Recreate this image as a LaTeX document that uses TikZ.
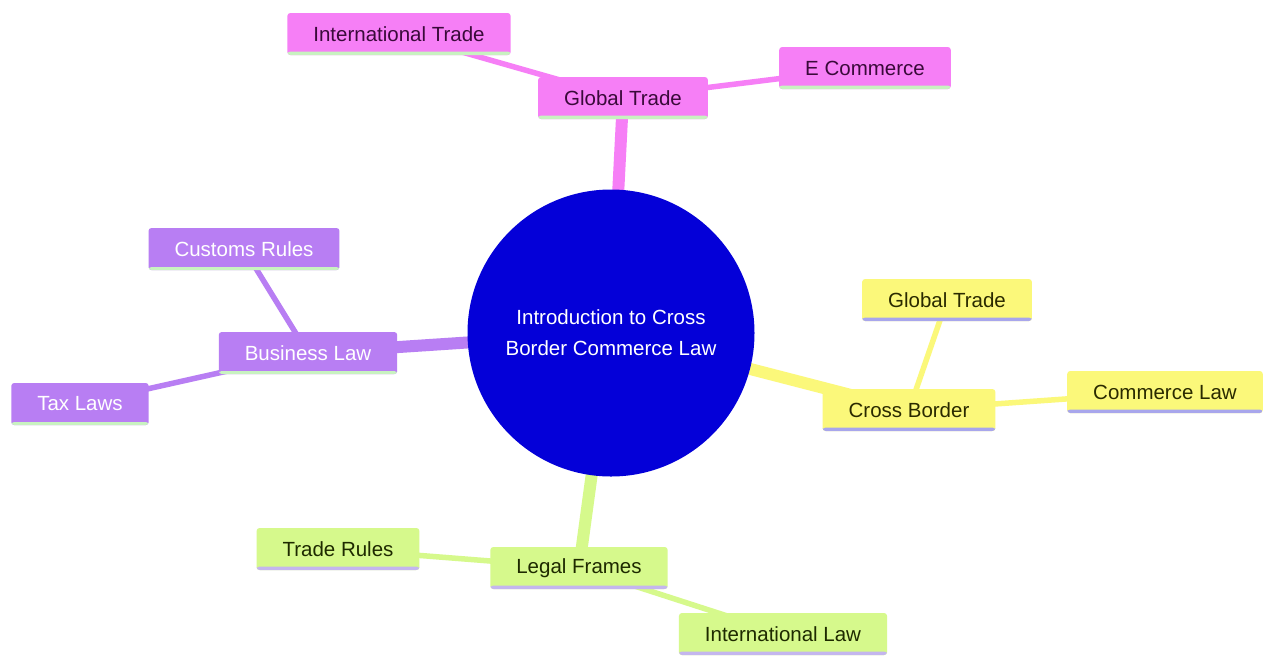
\documentclass[tikz,border=0pt]{standalone}
\usepackage{fontspec}
\setmainfont{Liberation Sans}
\usetikzlibrary{backgrounds}
\definecolor{pinkfill}{HTML}{F67FF6}
\definecolor{pinkline}{HTML}{F67FF6}
\definecolor{pinktext}{HTML}{3A0A3A}
\definecolor{purplefill}{HTML}{B87EF3}
\definecolor{yellowfill}{HTML}{FBF87A}
\definecolor{yellowtext}{HTML}{2A2A00}
\definecolor{greenfill}{HTML}{D6F98C}
\definecolor{greentext}{HTML}{1E2A00}
\definecolor{ulgreen}{HTML}{C8F2C0}
\definecolor{ullav}{HTML}{A8A6EC}
\definecolor{ulgreenlav}{HTML}{C4B6EE}
\definecolor{centerblue}{HTML}{0400D8}
\begin{document}
\begin{tikzpicture}[x=1pt,y=-1pt,
  basebox/.style={rectangle, rounded corners=3pt, minimum height=42pt, inner xsep=26pt,
    font=\fontsize{20.5}{24}\selectfont},
  pinkbox/.style={basebox, fill=pinkfill, text=pinktext,
    path picture={\fill[ulgreen] ([yshift=3.5pt]path picture bounding box.south west) rectangle (path picture bounding box.south east);}},
  purplebox/.style={basebox, fill=purplefill, text=white,
    path picture={\fill[ulgreen] ([yshift=3pt]path picture bounding box.south west) rectangle (path picture bounding box.south east);}},
  yellowbox/.style={basebox, fill=yellowfill, text=yellowtext,
    path picture={\fill[ullav] ([yshift=3.5pt]path picture bounding box.south west) rectangle (path picture bounding box.south east);}},
  greenbox/.style={basebox, fill=greenfill, text=greentext,
    path picture={\fill[ulgreenlav] ([yshift=3.5pt]path picture bounding box.south west) rectangle (path picture bounding box.south east);}},
  mainedge/.style={line width=12pt},
  subedge/.style={line width=5.5pt},
]
\useasboundingbox (0,0) rectangle (1264,657);

\node[circle, fill=centerblue, minimum size=287pt, inner sep=0pt, text=white, align=center,
  font=\fontsize{20.5}{31}\selectfont] (root) at (611,333) {Introduction to Cross\\Border Commerce Law};

\node[pinkbox] (gt) at (623,98) {Global Trade};
\node[pinkbox] (it) at (399,34) {International Trade};
\node[pinkbox] (ec) at (865,68) {E Commerce};

\node[purplebox] (bl) at (308,353) {Business Law};
\node[purplebox] (cr) at (244,249) {Customs Rules};
\node[purplebox] (tl) at (80,404) {Tax Laws};

\node[yellowbox] (cb) at (909,410) {Cross Border};
\node[yellowbox] (gt2) at (947,300) {Global Trade};
\node[yellowbox] (cl) at (1165,392) {Commerce Law};

\node[greenbox] (lf) at (579,568) {Legal Frames};
\node[greenbox] (tr) at (338,549) {Trade Rules};
\node[greenbox] (il) at (783,634) {International Law};

\begin{pgfonlayer}{background}
\fill[white] (0,0) rectangle (1264,657);
\draw[mainedge, pinkline] (root.center) -- (gt.center);
\draw[mainedge, purplefill] (root.center) -- (bl.center);
\draw[mainedge, yellowfill] (root.center) -- (cb.center);
\draw[mainedge, greenfill] (root.center) -- (lf.center);
\draw[subedge, pinkline] (gt.center) -- (it.center);
\draw[subedge, pinkline] (gt.center) -- (ec.center);
\draw[subedge, purplefill] (bl.center) -- (cr.center);
\draw[subedge, purplefill] (bl.center) -- (tl.center);
\draw[subedge, yellowfill] (cb.center) -- (gt2.center);
\draw[subedge, yellowfill] (cb.center) -- (cl.center);
\draw[subedge, greenfill] (lf.center) -- (tr.center);
\draw[subedge, greenfill] (lf.center) -- (il.center);
\end{pgfonlayer}
\end{tikzpicture}
\end{document}
